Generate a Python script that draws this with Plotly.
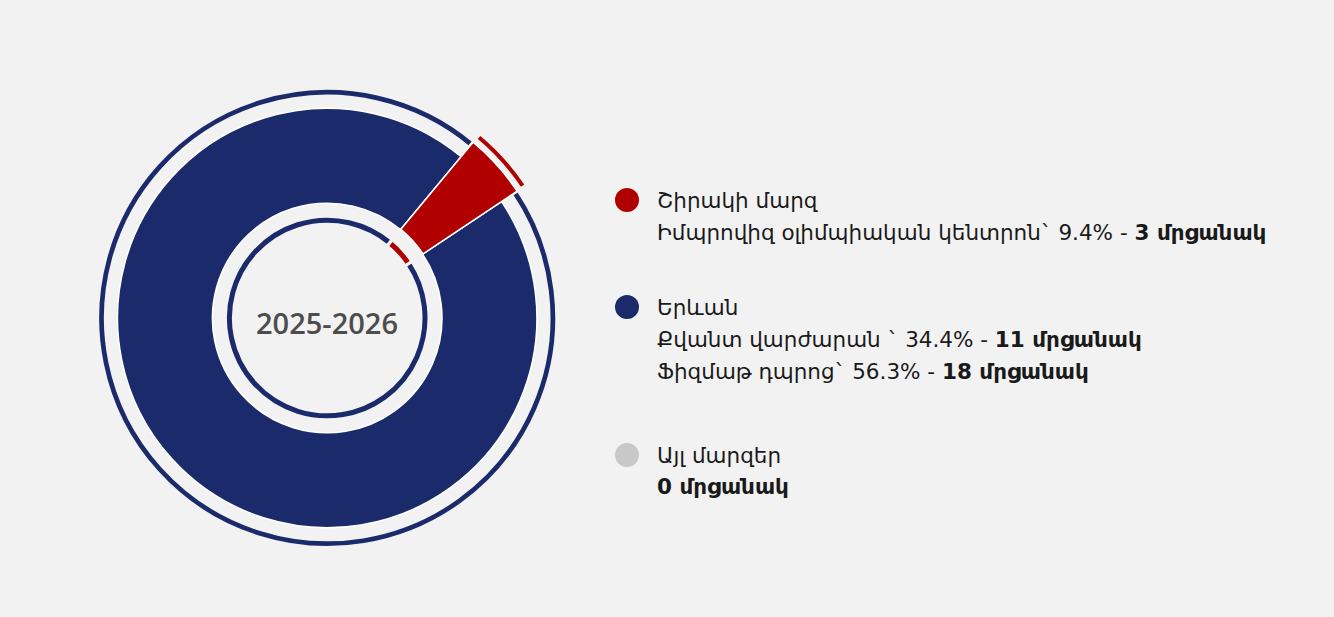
import plotly.graph_objects as go

# ---- data ----
regions = ["Շիրակի մարզ", "Երևան", "Այլ մարզեր"]
region_colors = ["#b00000", "#1b2a6b", "#c8c8c8"]
ring_share = [4.6, 95.4, 0]          # slice shares as drawn in the donut
highlight = [True, False, False]     # slice drawn "exploded" outward
detail_lines = [
    [("Իմպրովիզ օլիմպիական կենտրոն` ", "9.4%", "3 մրցանակ")],
    [("Քվանտ վարժարան ` ", "34.4%", "11 մրցանակ"),
     ("Ֆիզմաթ դպրոց` ", "56.3%", "18 մրցանակ")],
    [("", "", "0 մրցանակ")],
]
center_label = "2025-2026"

W, H = 1334, 617
BG = "#f2f2f2"
CX, CY = 327.2, 318.0
START = 39.7
CLEAR = "rgba(0,0,0,0)"

def dom(r):
    return dict(x=[(CX - r) / W, (CX + r) / W], y=[1 - (CY + r) / H, 1 - (CY - r) / H])

fig = go.Figure()

def ring(R, r_in, line_col, lw, show):
    """show: 'normal' -> only non-highlight slices, 'hl' -> only highlight, 'all'."""
    cols, lcols, lws = [], [], []
    for c, h in zip(region_colors, highlight):
        vis = show == "all" or (show == "hl" and h) or (show == "normal" and not h)
        cols.append(c if vis else CLEAR)
        lcols.append(line_col if vis else CLEAR)
        lws.append(lw if vis else 0)
    fig.add_trace(go.Pie(
        labels=regions, values=ring_share, hole=r_in / R, sort=False,
        direction="clockwise", rotation=START, domain=dom(R),
        marker=dict(colors=cols, line=dict(color=lcols, width=lws)),
        textinfo="none", hoverinfo="label", showlegend=False,
    ))

# outer thin ring (navy part) – stroke 3px in background colour trims 1.5px each side
ring(229.5, 221.8, BG, 3, "normal")
# main ring (navy part)
ring(209.7, 114.8, "#ffffff", 1.5, "normal")
# main ring highlighted wedge, extended outward
ring(228.4, 115.3, "#ffffff", 1.5, "hl")
# outer thin arc of highlighted slice, pushed outward
ring(239.5, 232.5, BG, 3, "hl")
# inner thin ring, all slices
ring(101.8, 93.8, BG, 3, "all")

FONT = "Segoe UI, DejaVu Sans, Noto Sans, sans-serif"
ann = []
ann.append(dict(x=CX / W, y=1 - (CY + 4) / H, xref="paper", yref="paper", text=center_label,
                showarrow=False,
                font=dict(family="Open Sans, sans-serif", size=29, color="#4d4d4d", weight=600),
                xanchor="center", yanchor="middle"))

shapes = []
tx = 655
circle_y = [200, 307, 455]
line_gap = 32
for i, reg in enumerate(regions):
    cy = circle_y[i]
    rr = 12
    shapes.append(dict(type="circle", xref="paper", yref="paper",
                       x0=(627 - rr) / W, x1=(627 + rr) / W,
                       y0=1 - (cy + rr) / H, y1=1 - (cy - rr) / H,
                       fillcolor=region_colors[i], line=dict(width=0)))
    lines = [reg]
    for pre, pct, cnt in detail_lines[i]:
        if pct:
            lines.append(f"{pre}{pct} - <b>{cnt}</b>")
        else:
            lines.append(f"<b>{cnt}</b>")
    for j, t in enumerate(lines):
        ann.append(dict(x=tx / W, y=1 - (cy + j * line_gap) / H, xref="paper", yref="paper",
                        text=t, showarrow=False, xanchor="left", yanchor="middle",
                        font=dict(family=FONT, size=21.5, color="#1a1a1a")))

fig.update_layout(width=W, height=H, margin=dict(l=0, r=0, t=0, b=0),
                  paper_bgcolor=BG, plot_bgcolor=BG, annotations=ann, shapes=shapes,
                  showlegend=False)
fig.write_html("out.html", config={"displayModeBar": False},
               post_script="document.body.style.margin='0';document.body.style.background='#f2f2f2';")
